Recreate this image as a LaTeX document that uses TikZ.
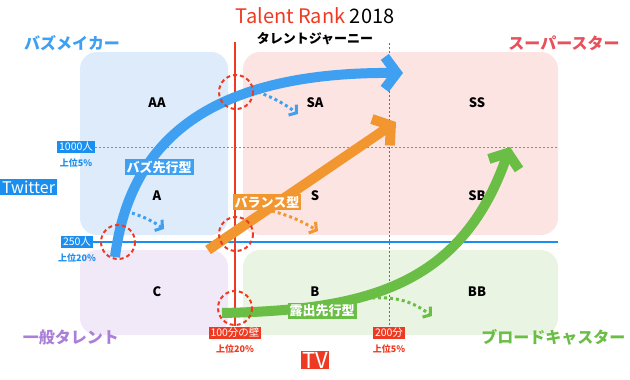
\documentclass[tikz,border=0pt]{standalone}
\usepackage{fontspec}
\setmainfont{Noto Sans CJK JP}
\usetikzlibrary{arrows.meta}
\definecolor{bleu}{HTML}{3FA0F2}
\definecolor{bleuF}{HTML}{1B8FEF}
\definecolor{rouge}{HTML}{EE3A22}
\definecolor{orange}{HTML}{F29630}
\definecolor{vert}{HTML}{6BBE45}
\definecolor{violet}{HTML}{A97FD8}
\definecolor{rose}{HTML}{E8505B}
\definecolor{fondB}{HTML}{DDEBFA}
\definecolor{fondR}{HTML}{FCE4E2}
\definecolor{fondV}{HTML}{F1E8F8}
\definecolor{fondG}{HTML}{E9F4E2}
\tikzset{
  zone/.style={rounded corners=17pt},
  rang/.style={font=\bfseries\fontsize{13}{13}\selectfont},
  profil/.style={text=#1, font=\bfseries\fontsize{16}{16}\selectfont},
  etiq/.style={fill=#1, text=white, inner xsep=2pt, inner ysep=1.5pt, font=\fontsize{10.5}{10.5}\selectfont},
  seuil/.style={text=#1, font=\bfseries\fontsize{9}{9}\selectfont},
  fleche/.style={line width=10pt, draw=#1, -{Straight Barb[length=12pt,width=32pt]}},
  pointille/.style={line width=3pt, draw=#1, dash pattern=on 3pt off 3pt, -{Straight Barb[length=5pt,width=13pt]}},
  mur/.style={draw=rouge, line width=2pt, dash pattern=on 4pt off 3pt},
}
\begin{document}
\begin{tikzpicture}[x=1pt,y=-1pt]
  \useasboundingbox (0,0) rectangle (630,380);
  % zones
  \fill[zone,fondB] (80,52) rectangle (228,235);
  \fill[zone,fondR] (243,52) rectangle (558,235);
  \fill[zone,fondV] (80,250) rectangle (228,335);
  \fill[zone,fondG] (243,250) rectangle (558,335);

  % cases
  \foreach \nom/\x/\y in {AA/157/103, SA/315/103, SS/477/103,
                          A/157/196, S/315/196, SB/477/196,
                          C/157/292, B/315/292, BB/477/292}{
    \node[rang] (\nom) at (\x,\y) {\nom};
  }

  % seuils Twitter
  \node[etiq=bleuF] (t1000) at (76,147) {1000人};
  \node[seuil=bleuF] (p5t) at (76,163) {上位5\%};
  \node[etiq=bleuF] (t250) at (77,242) {250人};
  \node[seuil=bleuF] (p20t) at (77,258) {上位20\%};
  \node[etiq=bleuF, anchor=west, font=\fontsize{16}{16}\selectfont, inner ysep=2pt] (twitter) at (0,187) {Twitter};
  \coordinate (fin1000) at (558,147);
  \coordinate (fin250) at (558,242);
  \draw[bleu, line width=1pt, dash pattern=on 2pt off 2pt] (t1000.east) -- (fin1000);
  \draw[bleuF, line width=2pt] (t250.east) -- (fin250);

  % seuils TV
  \node[etiq=rouge] (t100) at (235,333) {100分の壁};
  \node[seuil=rouge] (p20v) at (235,349) {上位20\%};
  \node[etiq=rouge] (t200) at (389,333) {200分};
  \node[seuil=rouge] (p5v) at (389,349) {上位5\%};
  \node[etiq=rouge, font=\fontsize{22}{22}\selectfont, inner xsep=1.5pt, inner ysep=1pt] (tv) at (315,360) {TV};
  \coordinate (haut100) at (235,42);
  \coordinate (haut200) at (389,43);
  \draw[rouge, line width=1.8pt] (haut100) -- (t100.north);
  \draw[rouge, line width=1pt, dash pattern=on 2pt off 2pt] (haut200) -- (t200.north);

  % titres
  \node[font=\fontsize{20}{20}\selectfont] (titre) at (315,16) {\textcolor{rouge}{Talent Rank} 2018};
  \node[font=\bfseries\fontsize{13}{13}\selectfont] (journey) at (315,39) {タレントジャーニー};
  \node[profil=bleu] (buzz) at (72,43) {バズメイカー};
  \node[profil=rose] (star) at (564,43) {スーパースター};
  \node[profil=violet] (general) at (71,337) {一般タレント};
  \node[profil=vert, anchor=east] (broad) at (629,337) {ブロードキャスター};

  % parcours
  \coordinate (bDeb) at (115,257);
  \coordinate (bFin) at (403,73);
  \coordinate (oDeb) at (208,250);
  \coordinate (oFin) at (396,122);
  \coordinate (gDeb) at (222,313);
  \coordinate (gFin) at (510,147);
  \draw[fleche=bleu] (bDeb) .. controls (130,140) and (210,72) .. (bFin);
  \draw[fleche=orange] (oDeb) -- (oFin);
  \draw[fleche=vert] (gDeb) .. controls (360,310) and (460,290) .. (gFin);

  % petites fleches
  \coordinate (d1) at (258,92);  \coordinate (a1) at (298,114);
  \coordinate (d2) at (132,213); \coordinate (a2) at (164,229);
  \coordinate (d3) at (272,211); \coordinate (a3) at (318,231);
  \coordinate (d4) at (372,298); \coordinate (a4) at (432,316);
  \draw[pointille=bleu] (d1) to[bend left=8] (a1);
  \draw[pointille=bleu] (d2) to[bend left=8] (a2);
  \draw[pointille=orange] (d3) to[bend left=8] (a3);
  \draw[pointille=vert] (d4) to[bend left=20] (a4);

  % murs
  \foreach \x/\y in {236/92, 118/242, 236/234, 235/308}{
    \draw[mur] (\x,\y) circle (17);
  }

  % types
  \node[etiq=bleu, font=\bfseries\fontsize{13}{13}\selectfont] (lbuzz) at (159,167) {バズ先行型};
  \node[etiq=orange, font=\bfseries\fontsize{13}{13}\selectfont] (lbal) at (267,202) {バランス型};
  \node[etiq=vert, font=\bfseries\fontsize{13}{13}\selectfont] (lexp) at (322,311) {露出先行型};
\end{tikzpicture}
\end{document}
